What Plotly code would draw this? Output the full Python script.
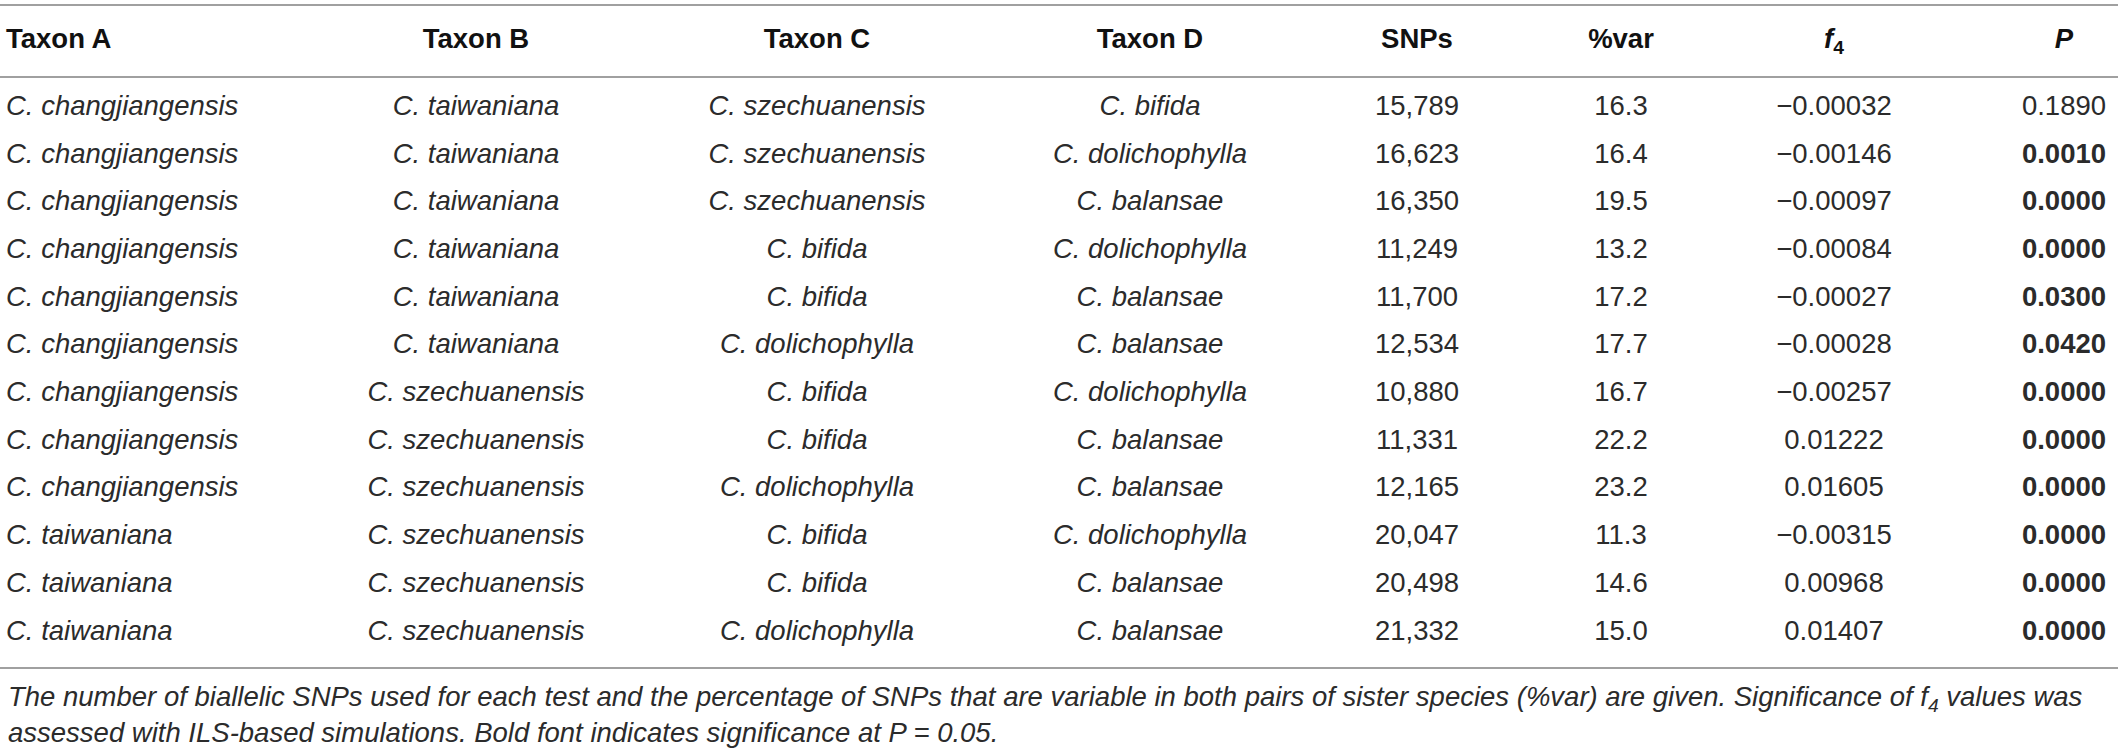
import plotly.graph_objects as go

# ---- data ----
taxon_a = ["C. changjiangensis"] * 9 + ["C. taiwaniana"] * 3
taxon_b = ["C. taiwaniana"] * 6 + ["C. szechuanensis"] * 6
taxon_c = ["C. szechuanensis", "C. szechuanensis", "C. szechuanensis",
           "C. bifida", "C. bifida", "C. dolichophylla",
           "C. bifida", "C. bifida", "C. dolichophylla",
           "C. bifida", "C. bifida", "C. dolichophylla"]
taxon_d = ["C. bifida", "C. dolichophylla", "C. balansae",
           "C. dolichophylla", "C. balansae", "C. balansae",
           "C. dolichophylla", "C. balansae", "C. balansae",
           "C. dolichophylla", "C. balansae", "C. balansae"]
snps = [15789, 16623, 16350, 11249, 11700, 12534, 10880, 11331, 12165, 20047, 20498, 21332]
pct_var = [16.3, 16.4, 19.5, 13.2, 17.2, 17.7, 16.7, 22.2, 23.2, 11.3, 14.6, 15.0]
f4 = [-0.00032, -0.00146, -0.00097, -0.00084, -0.00027, -0.00028,
      -0.00257, 0.01222, 0.01605, -0.00315, 0.00968, 0.01407]
p_vals = [0.1890, 0.0010, 0.0000, 0.0000, 0.0300, 0.0420,
          0.0000, 0.0000, 0.0000, 0.0000, 0.0000, 0.0000]
headers = ["<b>Taxon A</b>", "<b>Taxon B</b>", "<b>Taxon C</b>", "<b>Taxon D</b>",
           "<b>SNPs</b>", "<b>%var</b>", "<b><i>f</i><sub>4</sub></b>", "<b><i>P</i></b>"]
footnote = ("<i>The number of biallelic SNPs used for each test and the percentage of SNPs that are "
            "variable in both pairs of sister species (%var) are given. Significance of f<sub>4</sub> values was<br>"
            "assessed with ILS-based simulations. Bold font indicates significance at P = 0.05.</i>")
alpha = 0.05

# ---- style / layout ----
W, H = 2118, 754
row0_px, row_step = 108, 47.7
col_x = [6, 476, 817, 1150, 1417, 1621, 1834, 2064]
col_pos = ["middle right", "middle center", "middle center", "middle center",
           "middle center", "middle center", "middle center", "middle center"]
font_family = "Liberation Sans, Arial, sans-serif"
txt_color = "#2b2b2b"
rule_color = "#a0a0a0"
cell_size = 27.5
head_size = 27.5
note_size = 27.5

def px_to_idx(px):
    return (px - row0_px) / row_step

def fmt_f4(v):
    s = f"{abs(v):.5f}"
    return ("\u2212" + s) if v < 0 else s

def fmt_p(v):
    s = f"{v:.4f}"
    return f"<b>{s}</b>" if v <= alpha else s

n = len(snps)
rows = list(range(n))
columns = [
    [f"<i>{t}</i>" for t in taxon_a],
    [f"<i>{t}</i>" for t in taxon_b],
    [f"<i>{t}</i>" for t in taxon_c],
    [f"<i>{t}</i>" for t in taxon_d],
    [f"{v:,}" for v in snps],
    [f"{v:.1f}" for v in pct_var],
    [fmt_f4(v) for v in f4],
    [fmt_p(v) for v in p_vals],
]

fig = go.Figure()
header_idx = px_to_idx(41)
for j, col in enumerate(columns):
    fig.add_trace(go.Scatter(
        x=[col_x[j]] * n, y=rows, mode="text", text=col,
        textposition=col_pos[j],
        textfont=dict(family=font_family, size=cell_size, color=txt_color),
        hoverinfo="skip", showlegend=False))
    fig.add_trace(go.Scatter(
        x=[col_x[j]], y=[header_idx], mode="text", text=[headers[j]],
        textposition=col_pos[j],
        textfont=dict(family=font_family, size=head_size, color="#111111"),
        hoverinfo="skip", showlegend=False))

# horizontal rules
for px in (5, 77, 668):
    fig.add_shape(type="line", xref="x", yref="y", x0=0, x1=W,
                  y0=px_to_idx(px), y1=px_to_idx(px),
                  line=dict(color=rule_color, width=2))

fig.add_annotation(x=6, y=px_to_idx(714), xref="x", yref="y", text=footnote,
                   showarrow=False, xanchor="left", yanchor="middle", align="left",
                   font=dict(family=font_family, size=note_size, color=txt_color))

fig.update_layout(
    width=W, height=H, autosize=False,
    margin=dict(l=0, r=0, t=0, b=0),
    paper_bgcolor="white", plot_bgcolor="white",
    xaxis=dict(range=[0, W], visible=False, fixedrange=True),
    yaxis=dict(range=[px_to_idx(H), px_to_idx(0)], visible=False, fixedrange=True),
)

fig.write_html("out.html", post_script="document.body.style.margin='0';",
               config={"displayModeBar": False})
